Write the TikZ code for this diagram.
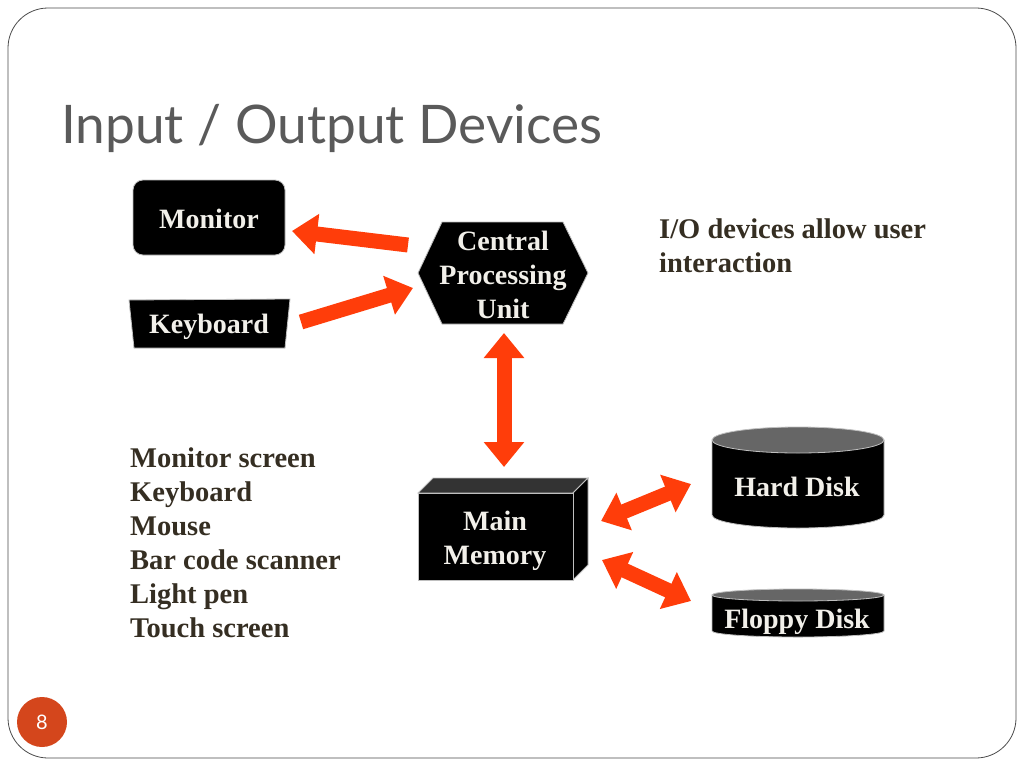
\documentclass[tikz,border=0pt]{standalone}
\usepackage{fontspec}
\setmainfont{Liberation Serif}
\newfontfamily\titlefont{Lato}
\usetikzlibrary{arrows.meta}
\definecolor{arrowred}{HTML}{FF3D0A}
\definecolor{titlegray}{HTML}{5A5A5A}
\definecolor{listtext}{HTML}{352E22}
\definecolor{pagecircle}{HTML}{D4461C}
\definecolor{nodetext}{HTML}{F2F0EA}
\tikzset{
  blackbox/.style={fill=black,draw=black!25,line width=0.8pt},
  boxtext/.style={text=nodetext,font=\bfseries\fontsize{28}{34}\selectfont,align=center,inner sep=0pt},
  listitem/.style={text=listtext,font=\bfseries\fontsize{28.5}{34}\selectfont,align=left,anchor=north west,inner sep=0pt},
  blockarrow/.style={draw=arrowred,line width=15pt,-{Triangle[length=25pt,width=39pt]}},
  blockdouble/.style={draw=arrowred,line width=15pt,{Triangle[length=25pt,width=39pt]}-{Triangle[length=25pt,width=39pt]}},
}
\begin{document}
\begin{tikzpicture}[x=1pt,y=-1pt]
\useasboundingbox (0,0) rectangle (1024,768);
\fill[white] (0,0) rectangle (1024,768);
% slide frame
\draw[black!70,line width=0.8pt,rounded corners=40pt] (8,8) rectangle (1016,758);
% title
\node[anchor=west,inner sep=0pt,text=titlegray,font=\titlefont\fontsize{53.2}{60}\selectfont] (title) at (61,128) {Input / Output Devices};
% page number
\fill[pagecircle] (42,722) circle (25pt);
\node[text=white,font=\titlefont\fontsize{20}{22}\selectfont] (page) at (42,722) {8};

% Monitor
\draw[blackbox,rounded corners=10pt] (133,180) rectangle (285,255);
\node[boxtext] (monitor) at (209,219) {Monitor};
% Keyboard
\draw[blackbox] (129,300) -- (290,299) -- (285,348) -- (134,348) -- cycle;
\node[boxtext] (keyboard) at (209,327) {Keyboard};
% CPU hexagon
\draw[blackbox] (418,273) -- (442,222) -- (563,222) -- (588,273) -- (563,324) -- (442,324) -- cycle;
\node[boxtext] (cpu) at (503,275) {Central\\Processing\\Unit};
% Main memory 3D box
\draw[fill=black!80,draw=black!25,line width=0.8pt] (418,493) -- (433,478) -- (588,478) -- (573,493) -- cycle;
\draw[blackbox] (573,493) -- (588,478) -- (588,565) -- (573,580) -- cycle;
\draw[blackbox] (418,493) rectangle (573,580);
\node[boxtext] (memory) at (495,541) {Main\\Memory};
% Hard disk cylinder
\draw[blackbox] (712,440) -- (712,515) arc[start angle=180,end angle=360,x radius=86pt,y radius=13pt] -- (884,440) -- cycle;
\draw[fill=black!60,draw=black!25,line width=0.8pt] (798,440) ellipse [x radius=86pt,y radius=13pt];
\node[boxtext] (hdd) at (797,487) {Hard Disk};
% Floppy disk cylinder
\draw[blackbox] (712,595) -- (712,631) arc[start angle=180,end angle=360,x radius=86pt,y radius=6pt] -- (884,595) -- cycle;
\draw[fill=black!60,draw=black!25,line width=0.8pt] (798,595) ellipse [x radius=86pt,y radius=6pt];
\node[boxtext] (fdd) at (797,622) {Floppy Disk};

% text blocks
\node[listitem] (note) at (659,219) {I/O devices allow user\\interaction};
\node[listitem] (list) at (130,448) {Monitor screen\\Keyboard\\Mouse\\Bar code scanner\\Light pen\\Touch screen};

% arrow end points
\coordinate (cpuL1) at (408,245);
\coordinate (monR) at (292,231);
\coordinate (kbR) at (301,322);
\coordinate (cpuL2) at (413,288);
\coordinate (cpuB) at (504,333);
\coordinate (memT) at (504,467);
\coordinate (memR1) at (601,521);
\coordinate (hddL) at (691,484);
\coordinate (memR2) at (602,560);
\coordinate (fddL) at (691,601);

\draw[blockarrow] (cpuL1) -- (monR);
\draw[blockarrow] (kbR) -- (cpuL2);
\draw[blockdouble] (cpuB) -- (memT);
\draw[blockdouble] (memR1) -- (hddL);
\draw[blockdouble] (memR2) -- (fddL);
\end{tikzpicture}
\end{document}
